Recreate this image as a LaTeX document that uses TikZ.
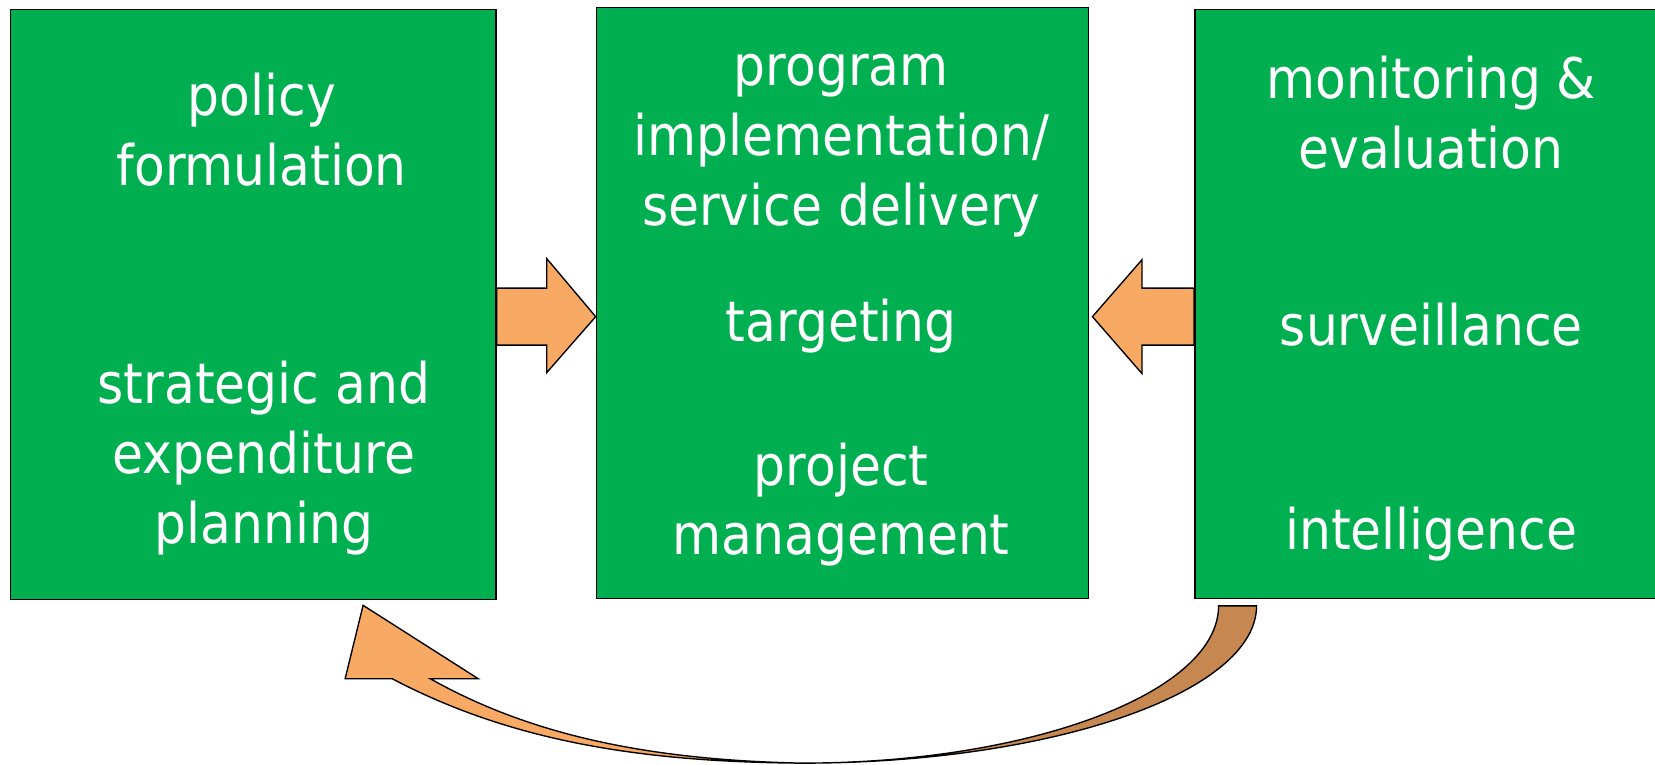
\documentclass[tikz,border=0pt]{standalone}
\usepackage{fontspec}
\setmainfont{DejaVu Sans Condensed}
\usetikzlibrary{calc}
\definecolor{stagegreen}{HTML}{00B050}
\definecolor{flowpeach}{HTML}{F8A964}
\definecolor{flowbrown}{HTML}{C68850}
\tikzset{
	stagebox/.style={draw=black,line width=1.3pt,fill=stagegreen,inner sep=0pt},
	stagetext/.style={text=white,align=center,inner sep=0pt,font=\fontsize{53}{66}\selectfont},
	flowarrow/.style={draw=black,line width=1.3pt,fill=flowpeach,line join=miter},
	flowtail/.style={draw=black,line width=1.3pt,fill=flowbrown,line join=miter}
}
\begin{document}
\begin{tikzpicture}[x=1pt,y=-1pt]
				\useasboundingbox (0,0) rectangle (1568,724);
				\node[stagebox,minimum width=460pt,minimum height=559pt] (policy) at (240,288.5) {};
				\node[stagebox,minimum width=466pt,minimum height=560pt] (delivery) at (798,287) {};
				\node[stagebox,minimum width=470pt,minimum height=558pt] (monitoring) at (1367,288) {};
				\node[stagetext] (policytext) at (248,123) {policy\\formulation};
				\node[stagetext] (planningtext) at (250,434) {strategic and\\expenditure\\planning};
				\node[stagetext] (programtext) at (797,138) {program\\implementation/\\service delivery};
				\node[stagetext] (targetingtext) at (797,309) {targeting};
				\node[stagetext] (projecttext) at (797,478) {project\\management};
				\node[stagetext] (evaltext) at (1356,107) {monitoring \&\\evaluation};
				\node[stagetext] (survtext) at (1356,308) {surveillance};
				\node[stagetext] (inteltext) at (1356,506) {intelligence};
				\draw[flowarrow] (policy.east |- 0,273) -- (518,273) -- (518,245) -- (delivery.west |- 0,300) -- (518,353) -- (518,327) -- (policy.east |- 0,327) -- cycle;
				\draw[flowarrow] (monitoring.west |- 0,273) -- (1082,273) -- (1082,246) -- (1035,300) -- (1082,354) -- (1082,327) -- (monitoring.west |- 0,327) -- cycle;
				\coordinate (loopbottom) at (760,723);
				\draw[flowtail] (1154.5,574) -- (1190.5,574) .. controls (1190.5,656) and (997,723) .. (loopbottom) .. controls (977,723) and (1154.5,656) .. cycle;
				\draw[flowarrow] (loopbottom) .. controls (610,720) and (500,695) .. (407.6,643) -- (453,643) -- (344,573.5) -- (327,643) -- (371.5,643) .. controls (480,700) and (600,722) .. cycle;
\end{tikzpicture}
\end{document}
